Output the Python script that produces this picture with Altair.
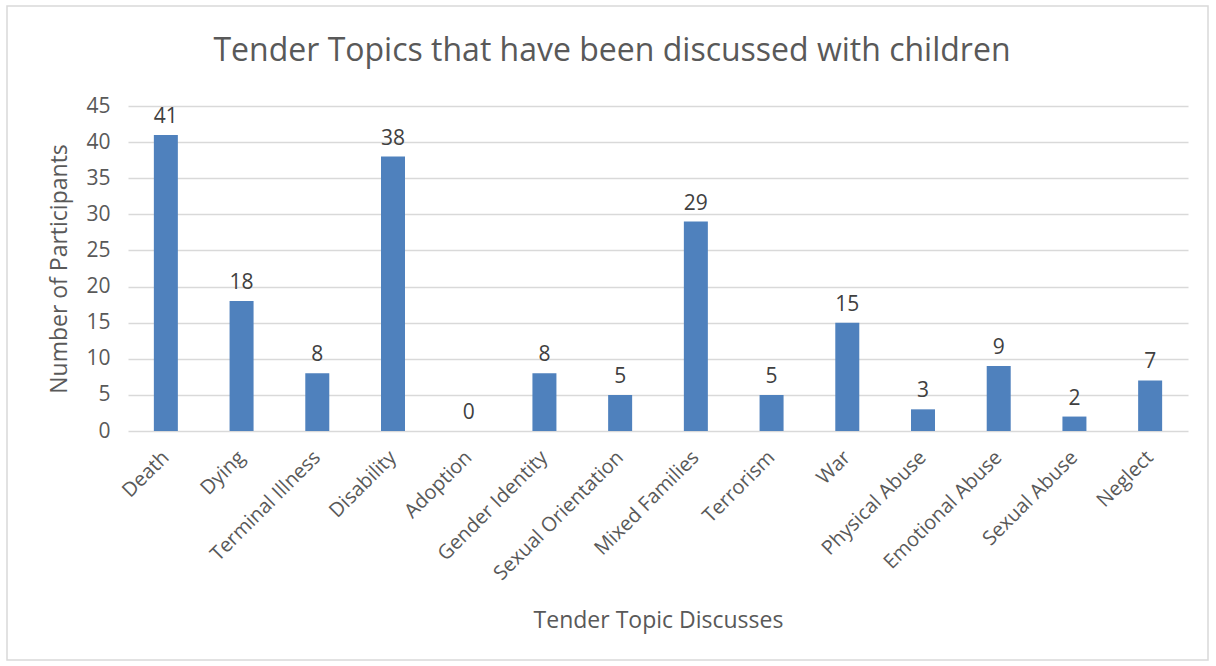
import altair as alt
import pandas as pd

topics = ["Death", "Dying", "Terminal Illness", "Disability", "Adoption", "Gender Identity",
          "Sexual Orientation", "Mixed Families", "Terrorism", "War", "Physical Abuse",
          "Emotional Abuse", "Sexual Abuse", "Neglect"]
counts = [41, 18, 8, 38, 0, 8, 5, 29, 5, 15, 3, 9, 2, 7]
y_ticks = [0, 5, 10, 15, 20, 25, 30, 35, 40, 45]

df = pd.DataFrame({"topic": topics, "count": counts})

FONT = "Open Sans"
GREY = "#595959"

x_enc = alt.X("topic:N", sort=topics,
              scale=alt.Scale(paddingInner=0, paddingOuter=0),
              axis=alt.Axis(title="Tender Topic Discusses", labelAngle=-45, labelAlign="right",
                            labelBaseline="middle", labelPadding=23, ticks=False, domain=False,
                            labelFont=FONT, labelFontSize=20, labelColor=GREY, labelOverlap=False,
                            titleFont=FONT, titleFontSize=23, titleColor=GREY, titleFontWeight="normal",
                            titleY=189, titleBaseline="middle"))
y_enc = alt.Y("count:Q", scale=alt.Scale(domain=[0, 45], nice=False),
              axis=alt.Axis(title="Number of Participants", values=y_ticks, ticks=False, domain=False,
                            labelPadding=18, labelFont=FONT, labelFontSize=21, labelColor=GREY,
                            labelOverlap=False, gridColor="#d9d9d9", gridWidth=1.5,
                            titleFont=FONT, titleFontSize=23, titleColor=GREY, titleFontWeight="normal",
                            titleX=-69, titleBaseline="middle", titleAlign="center"))

border = alt.Chart(pd.DataFrame({"a": [0]})).mark_rect(
    filled=False, stroke="#d9d9d9", strokeWidth=1.5
).encode(x=alt.value(-121), x2=alt.value(1080), y=alt.value(-100), y2=alt.value(554))

bars = alt.Chart(df).mark_bar(size=24, color="#4f81bd").encode(x=x_enc, y=y_enc)
labels = alt.Chart(df).mark_text(baseline="bottom", dy=-8, font=FONT, fontSize=21, color="#404040").encode(
    x=x_enc, y=y_enc, text="count:Q")

chart = alt.layer(border, bars, labels).properties(
    width=1060, height=325,
    background="white",
    title=alt.Title("Tender Topics that have been discussed with children", font=FONT, fontSize=32,
                    fontWeight="normal", color=GREY, anchor="middle", dx=-46, dy=63, offset=0),
    autosize=alt.AutoSizeParams(type="none"),
    padding={"left": 128, "top": 106, "right": 28, "bottom": 235},
).configure_view(strokeWidth=0, stroke=None)

chart.save("out.html", embed_options={"renderer": "svg", "actions": False})
